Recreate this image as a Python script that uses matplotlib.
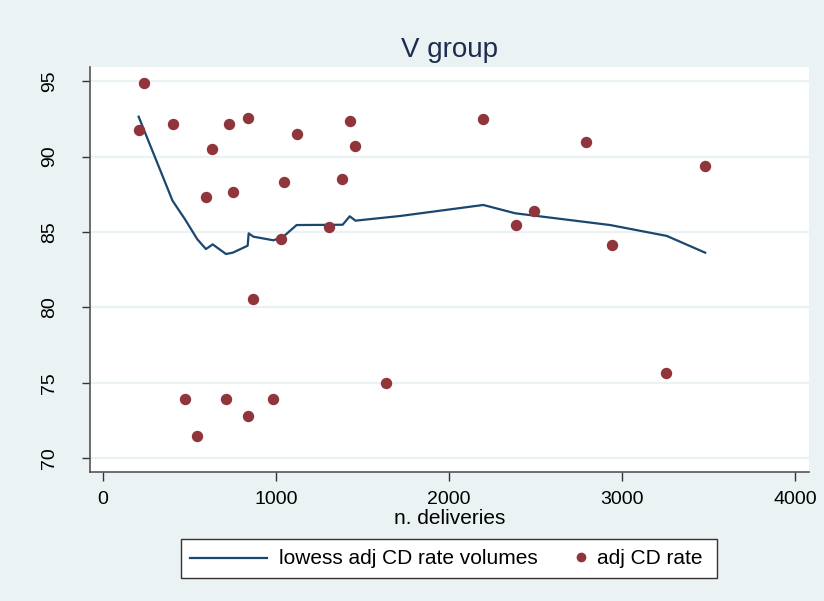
import matplotlib.pyplot as plt
import matplotlib.lines as mlines
from matplotlib.patches import Rectangle

# --- Data ---
deliveries = [206, 237, 405, 630, 730, 836, 1119, 1426, 1459,
              595, 750, 1048, 1382, 1031, 1306, 869,
              476, 711, 980, 840, 541, 1636,
              2198, 2793, 3480, 2490, 2389, 2942, 3254]
adj_cd_rate = [91.75, 94.85, 92.15, 90.48, 92.13, 92.55, 91.5, 92.35, 90.7,
               87.32, 87.65, 88.31, 88.53, 84.52, 85.31, 80.56,
               73.94, 73.94, 73.94, 72.84, 71.49, 75.0,
               92.46, 90.99, 89.35, 86.41, 85.46, 84.16, 75.66]

lowess_x = [206, 402, 474, 545, 595, 634, 711, 750, 836, 842, 869, 985,
            1042, 1119, 1385, 1426, 1459, 1717, 2198, 2382, 2931, 3258, 3480]
lowess_y = [92.64, 87.07, 85.84, 84.52, 83.87, 84.18, 83.54, 83.63, 84.09, 84.91,
            84.69, 84.45, 84.69, 85.46, 85.48, 86.04, 85.75, 86.06, 86.79, 86.24,
            85.46, 84.74, 83.63]

x_ticks = [0, 1000, 2000, 3000, 4000]
y_ticks = [70, 75, 80, 85, 90, 95]

# --- Styling ---
bg = '#EAF2F3'
navy = '#1a476f'
maroon = '#90353b'
W, H = 824, 601
plt.rcParams['font.family'] = ['Liberation Sans', 'DejaVu Sans']

fig = plt.figure(figsize=(W / 100, H / 100), dpi=100, facecolor=bg)
ax = fig.add_axes([90 / W, 1 - 472 / H, 719 / W, 405 / H])
ax.set_facecolor('white')

# grid lines
for yv in y_ticks:
    ax.axhline(yv, color=bg, linewidth=1.6, zorder=0)

ax.plot(lowess_x, lowess_y, color=navy, linewidth=1.6, zorder=2)
ax.plot(deliveries, adj_cd_rate, linestyle='none', marker='o', markersize=8.2,
        color=maroon, markeredgewidth=0, zorder=3)

ax.set_xlim(-75, 4080)
ax.set_ylim(69.1, 95.93)
ax.set_xticks(x_ticks)
ax.set_yticks(y_ticks)
ax.set_yticklabels([str(v) for v in y_ticks], rotation=90, va='center')

for side in ['top', 'right']:
    ax.spines[side].set_visible(False)
for side in ['left', 'bottom']:
    ax.spines[side].set_color('#555555')
    ax.spines[side].set_linewidth(1.2)

ax.tick_params(axis='x', length=6.5, width=1.0, color='#333333', labelsize=14, pad=7)
ax.tick_params(axis='y', length=6, width=1.0, color='#333333', labelsize=14, pad=17)

ax.set_xlabel('n. deliveries', fontsize=15, labelpad=1)
ax.set_title('V group', fontsize=20, color='#1e2d4f', pad=7)

# legend box below the plot (drawn by hand, Stata style)
def fx(px):
    return px / W

def fy(py):
    return 1 - py / H

fig.add_artist(Rectangle((fx(181), fy(578)), fx(536), 39 / H, transform=fig.transFigure,
                         facecolor='white', edgecolor='#333333', linewidth=1.0))
fig.add_artist(mlines.Line2D([fx(190), fx(267)], [fy(558), fy(558)], transform=fig.transFigure,
                             color=navy, linewidth=1.6))
fig.add_artist(mlines.Line2D([fx(581)], [fy(557)], transform=fig.transFigure,
                             color=maroon, marker='o', markersize=7, markeredgewidth=0,
                             linestyle='none'))
fig.text(fx(279), fy(564), 'lowess adj CD rate volumes', fontsize=15, va='baseline')
fig.text(fx(597), fy(564), 'adj CD rate', fontsize=15, va='baseline')

fig.savefig('out.png', dpi=100, facecolor=bg)
